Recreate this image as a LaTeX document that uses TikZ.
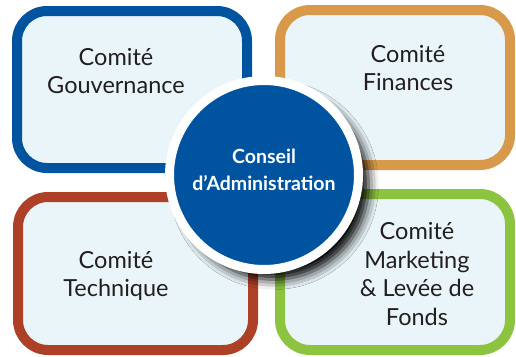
\documentclass[tikz,border=0pt]{standalone}
\usepackage{fontspec}
\setmainfont{Lato}
\usetikzlibrary{shadows.blur}

\definecolor{caBlue}{RGB}{0,84,159}
\definecolor{finOrange}{RGB}{216,154,74}
\definecolor{techRed}{RGB}{174,64,40}
\definecolor{mktGreen}{RGB}{140,196,64}
\definecolor{boxFill}{RGB}{233,245,248}
\definecolor{txtGray}{RGB}{35,31,32}

\begin{document}
\begin{tikzpicture}[x=1pt, y=-1pt,
    box/.style={draw=#1, fill=boxFill, line width=10pt, rounded corners=30pt, minimum width=230pt},
    boxtxt/.style={align=center, text=txtGray, font=\fontsize{23.5}{28.5}\selectfont},
    ca/.style={circle, fill=caBlue, draw=white, line width=9pt, minimum size=189pt, inner sep=0pt,
        blur shadow={shadow xshift=10pt, shadow yshift=-10pt, shadow blur radius=10pt, shadow opacity=100}},
    catxt/.style={align=center, text=white, font=\bfseries\fontsize{19.5}{27}\selectfont}]

        \useasboundingbox (0,0) rectangle (516,356);

        % Define the coordinates of the four committees
        \coordinate (G) at (132,89.5);
        \coordinate (F) at (395,87.5);
        \coordinate (T) at (135.5,273.5);
        \coordinate (M) at (395,272);
        \coordinate (CA) at (264,175);

        % Draw the boxes
        \node[box=caBlue, minimum height=157pt] (gouv) at (G) {};
        \node[box=finOrange, minimum height=155pt] (fin) at (F) {};
        \node[box=techRed, minimum width=235pt, minimum height=153pt] (tech) at (T) {};
        \node[box=mktGreen, minimum height=156pt] (mkt) at (M) {};

        % Labels of the committees
        \node[boxtxt] (gouv-txt) at (116,71) {Comité\\Gouvernance};
        \node[boxtxt] (fin-txt) at (408,68) {Comité\\Finances};
        \node[boxtxt] (tech-txt) at (116,276) {Comité\\Technique};
        \node[boxtxt] (mkt-txt) at (417,274) {Comité\\Marketing\\\& Levée de\\Fonds};

        % Central circle
        \node[ca] (conseil) at (CA) {};
        \node[catxt] (conseil-txt) at (264,169.5) {Conseil\\d’Administration};

    \end{tikzpicture}
\end{document}
